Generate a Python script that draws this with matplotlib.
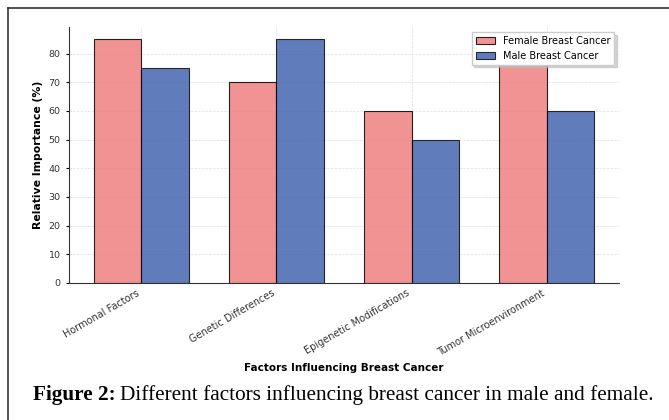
import numpy as np
import matplotlib.pyplot as plt
from matplotlib.lines import Line2D

factors = ['Hormonal Factors', 'Genetic Differences',
           'Epigenetic Modifications', 'Tumor Microenvironment']
female = [85, 70, 60, 80]
male = [75, 85, 50, 60]

fig = plt.figure(figsize=(6.69, 4.2), dpi=100)
ax = fig.add_axes([69 / 669, 1 - 283 / 420, 550 / 669, 256 / 420])

x = np.arange(len(factors))
w = 0.35
ax.bar(x - w / 2, female, w, color='#F08080', alpha=0.85,
       edgecolor='black', linewidth=0.8, label='Female Breast Cancer')
ax.bar(x + w / 2, male, w, color='#3A5BAA', alpha=0.8,
       edgecolor='black', linewidth=0.8, label='Male Breast Cancer')

ax.set_xticks(x)
ax.set_xticklabels(factors, rotation=30, ha='right', fontsize=7, color='#333333')
ax.tick_params(axis='y', labelsize=6.8, labelcolor='#333333', length=2.5)
ax.tick_params(axis='x', length=0)
ax.set_xlabel('Factors Influencing Breast Cancer', fontsize=7.5, fontweight='bold')
ax.set_ylabel('Relative Importance (%)', fontsize=7.8, fontweight='bold')
ax.grid(True, linestyle='--', linewidth=0.5, color='#dddddd')
ax.set_axisbelow(True)
ax.spines['top'].set_visible(False)
ax.spines['right'].set_visible(False)
ax.spines['left'].set_color('#333333')
ax.spines['bottom'].set_color('#333333')
leg = ax.legend(loc='upper right', fontsize=7, shadow={'color': '#bbbbbb', 'alpha': 0.6},
                fancybox=False, framealpha=1, edgecolor='#cccccc')

# page frame
fig.add_artist(Line2D([8 / 669, 1], [1 - 7.5 / 420] * 2, color='#333333', lw=1.2))
fig.add_artist(Line2D([8 / 669] * 2, [0, 1 - 7.5 / 420], color='#333333', lw=1.2))

# caption
t = fig.text(33 / 669, 1 - 395 / 420, 'Figure 2:', fontsize=15.3, fontweight='bold',
             family='Liberation Serif', va='center')
fig.canvas.draw()
bb = t.get_window_extent()
fig.text(bb.x1 / 669 + 0.006, 1 - 395 / 420,
         'Different factors influencing breast cancer in male and female.',
         fontsize=15.3, family='Liberation Serif', va='center')

fig.savefig('out.png', dpi=100)
